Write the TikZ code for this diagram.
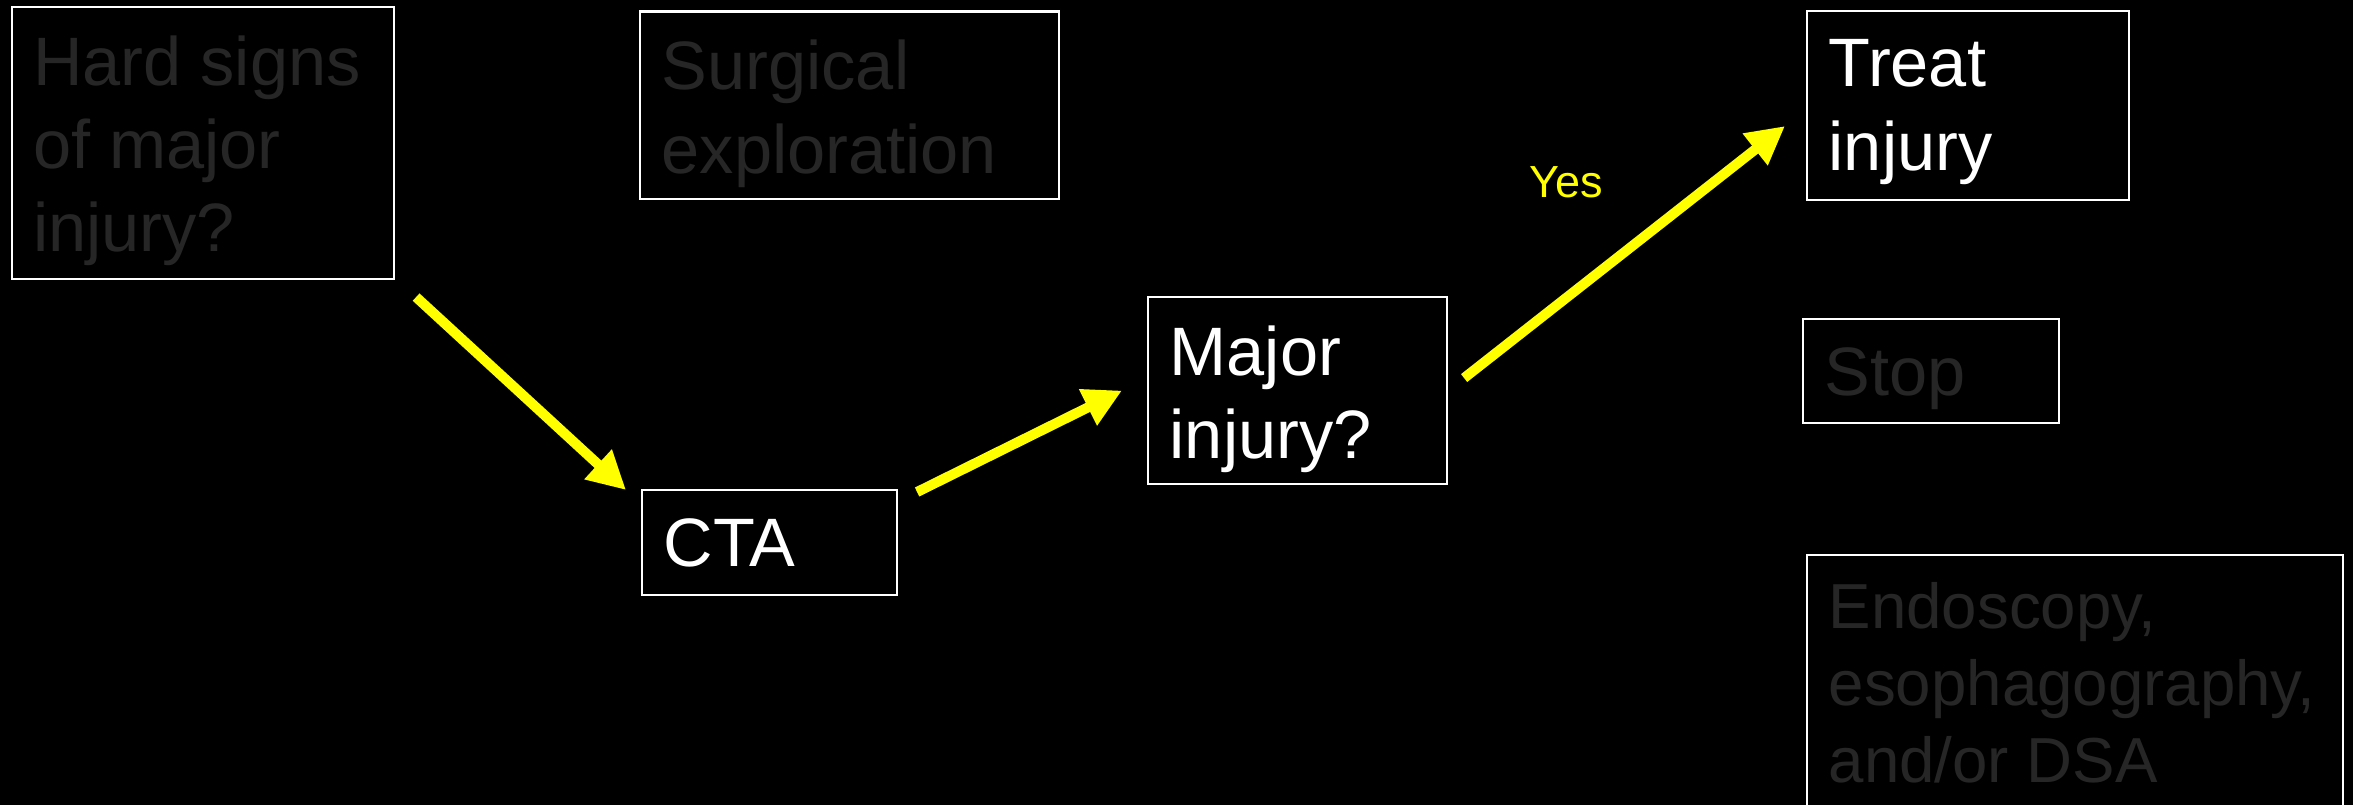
\documentclass[tikz,border=0pt]{standalone}
\usepackage{fontspec}
\setmainfont{Liberation Sans}
\usepackage{xcolor}
\usetikzlibrary{calc,arrows.meta,positioning}
\definecolor{dimc}{HTML}{262626}
\definecolor{hic}{HTML}{FFFF00}
\tikzset{
  ar/.style={-{Triangle[length=3.8mm,width=3.8mm]},line width=1mm,hic},
  box/.style 2 args={draw=white,line width=0.6pt,anchor=north west,inner sep=0pt,minimum width=#1,minimum height=#2},
  txt/.style={anchor=north west,inner sep=0pt,align=left,font=\fontsize{19.5}{23.7}\selectfont},
  dim/.style={txt,text=dimc},
  lit/.style={txt,text=white}
}
\begin{document}
\begin{tikzpicture}[x=0.1mm,y=-0.1mm]
\fill[black] (0,0) rectangle (2353,805);
\useasboundingbox (0,0) rectangle (2353,805);
\clip (0,0) rectangle (2353,805);
% frames
\node[box={38.25mm}{27.2mm}] (hard) at (10.5,6) {};
\node[box={41.9mm}{18.75mm}] (surg) at (639,10.5) {};
\node[box={25.5mm}{10.5mm}] (cta) at (641,489) {};
\node[box={29.9mm}{18.7mm}] (major) at (1147,296) {};
\node[box={32.2mm}{18.9mm}] (treat) at (1806,10) {};
\node[box={25.6mm}{10.4mm}] (stop) at (1802,318) {};
\node[box={53.6mm}{27.2mm}] (endo) at (1806,554) {};
% texts
\node[dim] (hardt) at ([shift={(22,29)}]hard.north west) {Hard signs\\of major\\injury?};
\node[dim] (surgt) at ([shift={(22,29)}]surg.north west) {Surgical\\exploration};
\node[lit] (ctat) at ([shift={(22,29)}]cta.north west) {CTA};
\node[lit] (majort) at ([shift={(22,29)}]major.north west) {Major\\injury?};
\node[lit] (treatt) at ([shift={(22,29)}]treat.north west) {Treat\\injury};
\node[dim] (stopt) at ([shift={(22,29)}]stop.north west) {Stop};
\node[dim,font=\fontsize{18.1}{21.9}\selectfont] (endot) at ([shift={(22,28)}]endo.north west) {Endoscopy,\\esophagography,\\and/or DSA};
% flow
\draw[ar] ([shift={(21,17)}]hard.south east) -- ([shift={(-15,1)}]cta.north west);
\draw[ar] ([shift={(19,3)}]cta.north east) -- ([shift={(-25,0)}]major.west);
\draw[ar] ([shift={(16,-12.5)}]major.east) -- ([shift={(-21,20.5)}]treat.west);
\node[anchor=base,inner sep=0pt,text=hic,font=\fontsize{12.8}{15}\selectfont] (yes) at (1566,197.5) {Yes};
\end{tikzpicture}
\end{document}
